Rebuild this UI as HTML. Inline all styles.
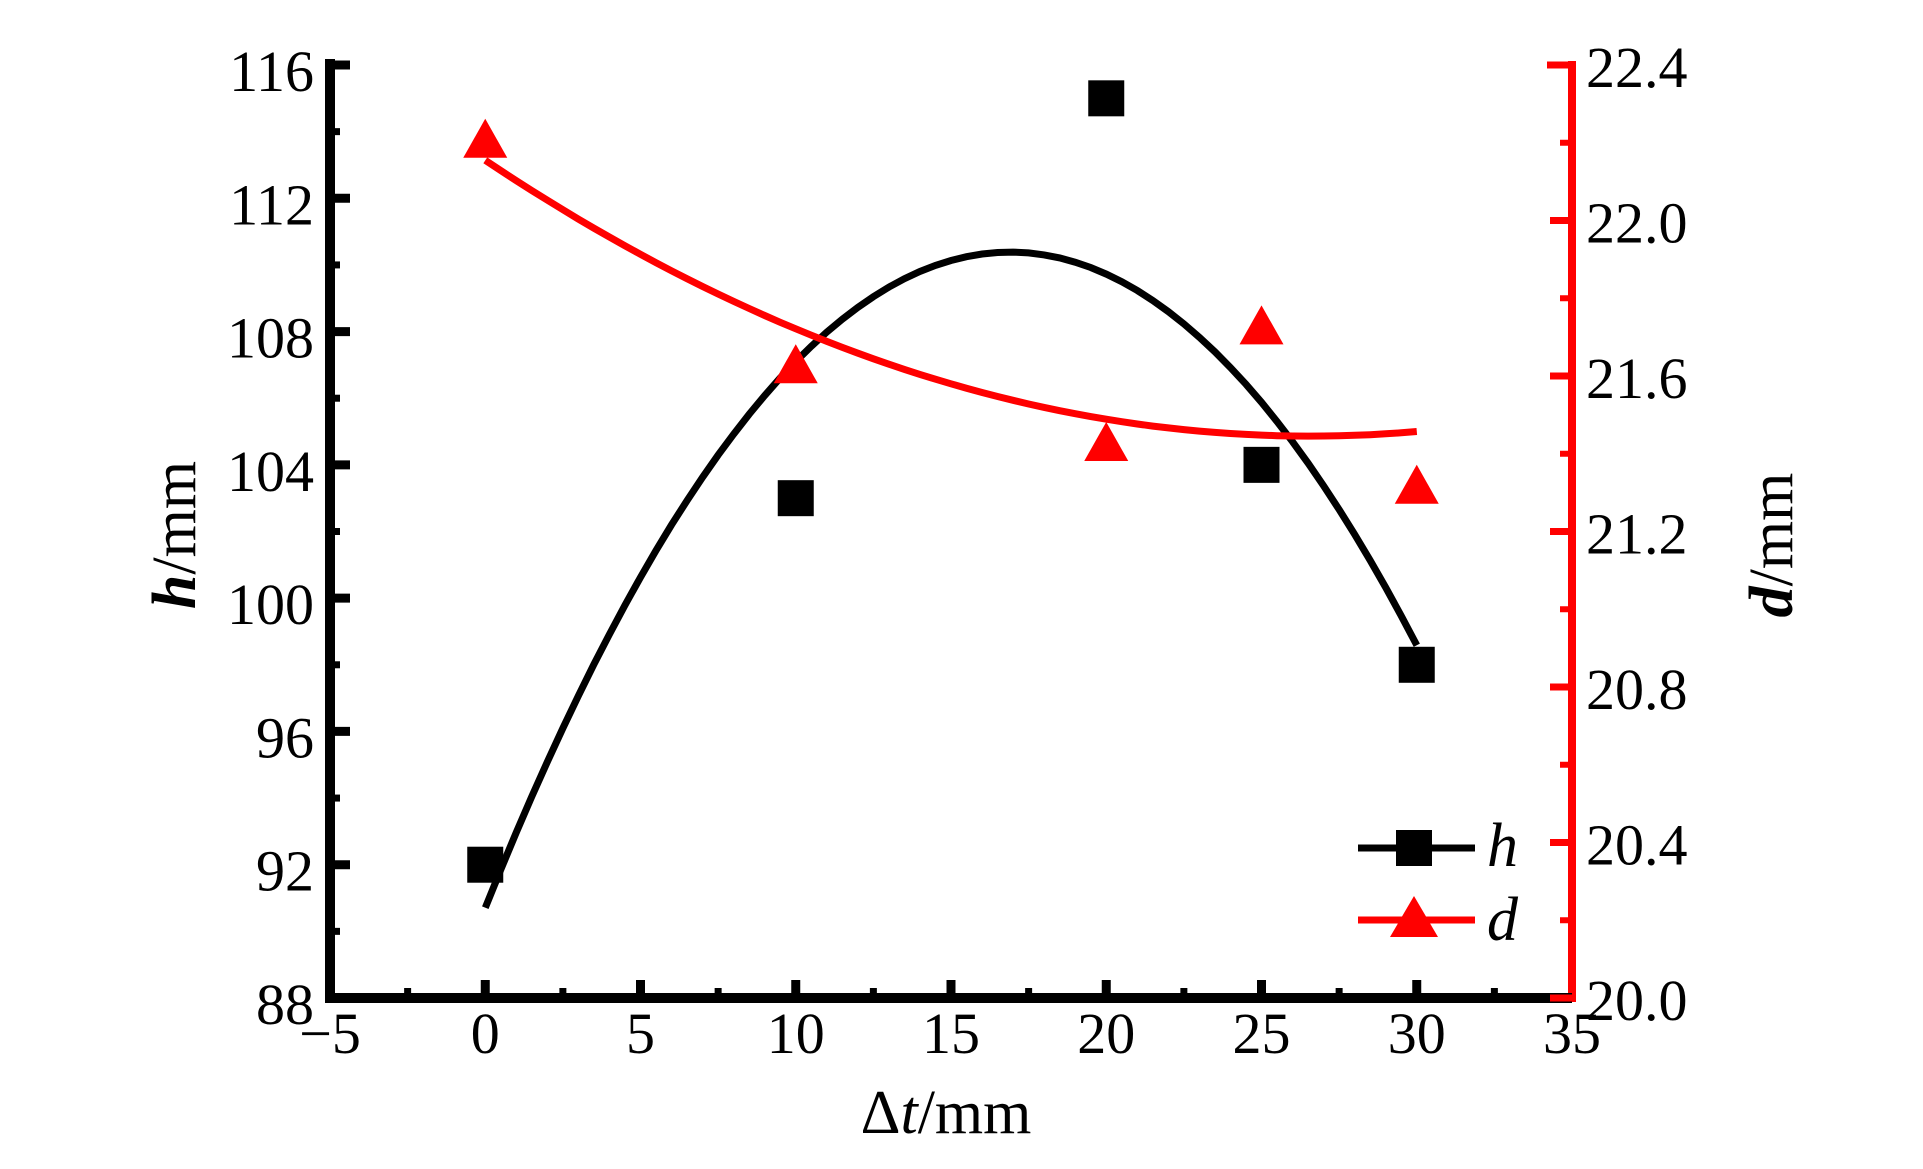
<!DOCTYPE html>
<html><head><meta charset="utf-8"><style>
html,body{margin:0;padding:0;background:#fff;}
svg{display:block;}
text{font-family:"Liberation Serif",serif;}
</style></head><body>
<svg id="chart" width="1923" height="1169" viewBox="0 0 1923 1169" xmlns="http://www.w3.org/2000/svg">
<g id="grid"></g>
</svg>
<script>
const xCats = [0, 10, 20, 25, 30];
const hValues = [92, 103, 115, 104, 98];
const dValues = [22.2, 21.62, 21.42, 21.72, 21.31];
const xTicks = [-5, 0, 5, 10, 15, 20, 25, 30, 35];
const hTicks = [88, 92, 96, 100, 104, 108, 112, 116];
const dTicks = ["20.0", "20.4", "20.8", "21.2", "21.6", "22.0", "22.4"];

const X0 = 330, X1 = 1572, Y0 = 998, Y1 = 65;
const xs = v => X0 + (v + 5) / 40 * (X1 - X0);
const yh = v => Y0 - (v - 88) / 28 * (Y0 - Y1);
const yd = v => Y0 - (v - 20) / 2.4 * (Y0 - Y1);
const svg = document.getElementById('chart');
const NS = 'http://www.w3.org/2000/svg';
function mk(tag, attrs, parent) {
  const e = document.createElementNS(NS, tag);
  for (const k in attrs) e.setAttribute(k, attrs[k]);
  (parent || svg).appendChild(e);
  return e;
}
function fit(x, y) {
  let S = [0,0,0,0,0], T = [0,0,0];
  for (let i = 0; i < x.length; i++) {
    for (let p = 0; p < 5; p++) S[p] += Math.pow(x[i], p);
    for (let p = 0; p < 3; p++) T[p] += y[i] * Math.pow(x[i], p);
  }
  const A = [[S[0],S[1],S[2],T[0]],[S[1],S[2],S[3],T[1]],[S[2],S[3],S[4],T[2]]];
  for (let i = 0; i < 3; i++) {
    for (let j = i + 1; j < 3; j++) {
      const f = A[j][i] / A[i][i];
      for (let k = i; k < 4; k++) A[j][k] -= f * A[i][k];
    }
  }
  const c = [0,0,0];
  for (let i = 2; i >= 0; i--) {
    let s = A[i][3];
    for (let k = i + 1; k < 3; k++) s -= A[i][k] * c[k];
    c[i] = s / A[i][i];
  }
  return t => c[0] + c[1] * t + c[2] * t * t;
}

// fit curves
const fh = fit(xCats, hValues), fd = fit(xCats, dValues);
let ph = '', pd = '';
for (let t = 0; t <= 30.001; t += 0.5) {
  ph += (t === 0 ? 'M' : 'L') + xs(t).toFixed(1) + ',' + yh(fh(t)).toFixed(1);
  pd += (t === 0 ? 'M' : 'L') + xs(t).toFixed(1) + ',' + yd(fd(t)).toFixed(1);
}
let e;
e = mk('path', {d: ph, fill: 'none', stroke: '#000', 'stroke-width': 7});


e = mk('path', {d: pd, fill: 'none', stroke: '#f00', 'stroke-width': 7});



// markers
xCats.forEach((x, i) => {
  const m = mk('rect', {x: xs(x) - 18, y: yh(hValues[i]) - 18, width: 36, height: 36, fill: '#000'});
  
  
  const cx = xs(x), cy = yd(dValues[i]);
  const tri = mk('polygon', {points: `${cx},${cy - 24} ${cx + 22},${cy + 15} ${cx - 22},${cy + 15}`, fill: '#f00'});
  
  
});

// axes
e = mk('line', {x1: X1, y1: Y1 - 4, x2: X1, y2: Y0 + 4, stroke: '#f00', 'stroke-width': 8});


e = mk('line', {x1: X1 - 25, y1: Y1, x2: X1, y2: Y1, stroke: '#f00', 'stroke-width': 7});


e = mk('line', {x1: X0, y1: Y1 - 6, x2: X0, y2: Y0 + 5, stroke: '#000', 'stroke-width': 10});


e = mk('line', {x1: X0 - 5, y1: Y0, x2: X1, y2: Y0, stroke: '#000', 'stroke-width': 10});



// x ticks
xTicks.forEach((v, i) => {
  const x = xs(v);
  if (i > 0 && i < xTicks.length - 1) {
    const t = mk('line', {x1: x, y1: Y0, x2: x, y2: Y0 - 18, stroke: '#000', 'stroke-width': 9});
    
    
  }
  if (i < xTicks.length - 1) {
    const mn = mk('line', {x1: xs(v + 2.5), y1: Y0, x2: xs(v + 2.5), y2: Y0 - 10, stroke: '#000', 'stroke-width': 7});
    
    
  }
  const lb = mk('text', {x: x, y: 1053, 'font-size': 58, 'text-anchor': 'middle'});
  lb.textContent = v < 0 ? '\u2212' + (-v) : String(v);
  
  
});
// h ticks
hTicks.forEach((v, i) => {
  const y = yh(v);
  const t = mk('line', {x1: X0, y1: y, x2: X0 + 20, y2: y, stroke: '#000', 'stroke-width': 9});
  
  
  if (i < hTicks.length - 1) {
    const mn = mk('line', {x1: X0, y1: yh(v + 2), x2: X0 + 10, y2: yh(v + 2), stroke: '#000', 'stroke-width': 7});
    
    
  }
  const lb = mk('text', {x: 314, y: y + 26, 'font-size': 58, 'text-anchor': 'end'});
  lb.textContent = String(v);
  
  
});
// d ticks
dTicks.forEach((s, i) => {
  const v = parseFloat(s), y = yd(v);
  const t = mk('line', {x1: X1, y1: y, x2: X1 - 22, y2: y, stroke: '#f00', 'stroke-width': 7});
  
  
  if (i < dTicks.length - 1) {
    const mn = mk('line', {x1: X1, y1: yd(v + 0.2), x2: X1 - 12, y2: yd(v + 0.2), stroke: '#f00', 'stroke-width': 6});
    
    
  }
  const lb = mk('text', {x: 1586, y: y + 22, 'font-size': 58, 'text-anchor': 'start'});
  lb.textContent = s;
  
  
});

// axis titles
e = mk('text', {x: 946, y: 1133, 'font-size': 62, 'text-anchor': 'middle'});
e.innerHTML = '\u0394<tspan font-style="italic">t</tspan>/mm';


e = mk('text', {x: 0, y: 0, 'font-size': 62, 'text-anchor': 'middle', transform: 'translate(195,535) rotate(-90)'});
e.innerHTML = '<tspan font-style="italic" font-weight="bold">h</tspan>/mm';


e = mk('text', {x: 0, y: 0, 'font-size': 62, 'text-anchor': 'middle', transform: 'translate(1792,545) rotate(-90)'});
e.innerHTML = '<tspan font-style="italic" font-weight="bold">d</tspan>/mm';



// legend
const lg = mk('g', {});


e = mk('line', {x1: 1358, y1: 848, x2: 1475, y2: 848, stroke: '#000', 'stroke-width': 7}, lg);


e = mk('rect', {x: 1396, y: 830, width: 36, height: 36, fill: '#000'}, lg);


e = mk('text', {x: 1487, y: 866, 'font-size': 62, 'font-style': 'italic'}, lg);
e.textContent = 'h';


e = mk('line', {x1: 1358, y1: 920, x2: 1475, y2: 920, stroke: '#f00', 'stroke-width': 7}, lg);


e = mk('polygon', {points: '1414,896 1438,937 1390,937', fill: '#f00'}, lg);


e = mk('text', {x: 1487, y: 940, 'font-size': 62, 'font-style': 'italic'}, lg);
e.textContent = 'd';


</script>
</body></html>
